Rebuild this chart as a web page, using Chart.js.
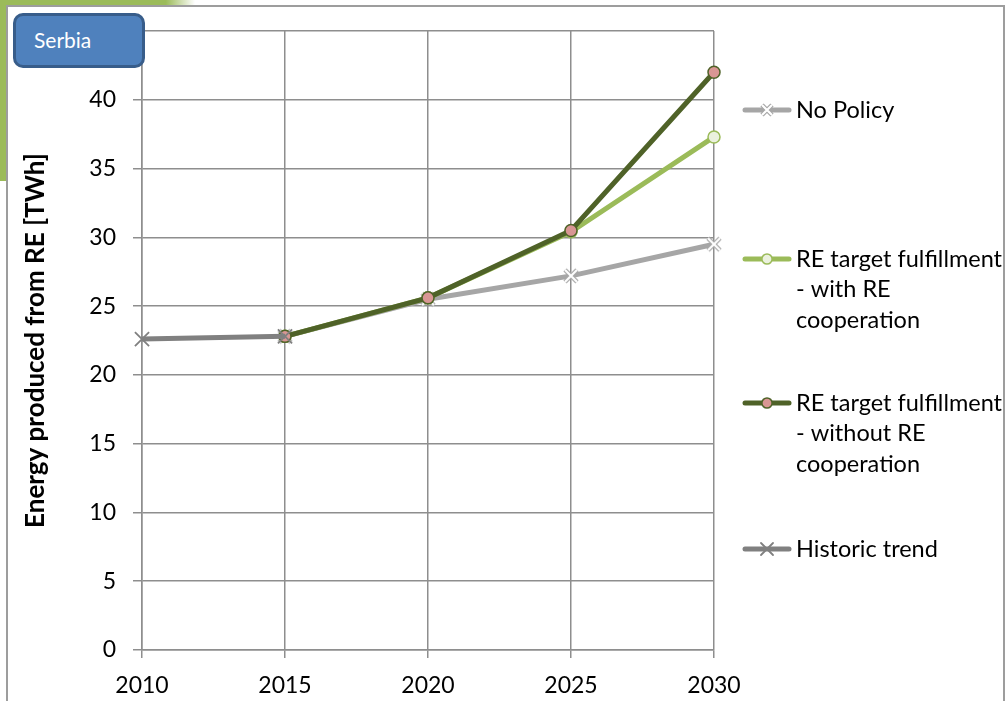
<!DOCTYPE html>
<html>
<head>
<meta charset="utf-8">
<script src="https://cdn.jsdelivr.net/npm/chart.js@4.4.0/dist/chart.umd.min.js"></script>
<style>
  html, body { margin: 0; padding: 0; background: #ffffff; }
  #wrap { position: relative; width: 1008px; height: 701px; overflow: hidden; background: #fff; }
  #greenTop { position: absolute; left: 0; top: 0; width: 195px; height: 5px;
    background: linear-gradient(to right, #9bbb59 0%, #9bbb59 85%, rgba(155,187,89,0) 100%); }
  #greenLeft { position: absolute; left: 0; top: 0; width: 6px; height: 181px; background: #9bbb59; }
  #frame { position: absolute; left: 6px; top: 5px; width: 999px; height: 720px;
    border: 2px solid #9d9d9d; box-sizing: border-box; }
  #serbia { position: absolute; left: 13px; top: 13px; width: 132px; height: 55px;
    box-sizing: border-box; background: #4f81bd; border: 3px solid #385d8a; border-radius: 10px;
    color: #ffffff; font-family: Lato, "Open Sans", sans-serif; font-size: 21px;
    line-height: 48px; padding-left: 18px; }
  canvas { position: absolute; left: 0; top: 0; }
</style>
</head>
<body>
<div id="wrap">
  <div id="greenTop"></div>
  <div id="greenLeft"></div>
  <div id="frame"></div>
  <canvas id="c" width="1008" height="701"></canvas>
  <div id="serbia">Serbia</div>
</div>
<script>
const years = [2010, 2015, 2020, 2025, 2030];
const historicTrend = [22.6, 22.8, null, null, null];
const noPolicy = [null, 22.8, 25.5, 27.2, 29.5];
const withCoop = [null, 22.8, 25.6, 30.4, 37.3];
const withoutCoop = [null, 22.8, 25.6, 30.5, 42.0];
const yTicks = [0, 5, 10, 15, 20, 25, 30, 35, 40, 45];
const seriesNames = ['No Policy', 'RE target fulfillment - with RE cooperation', 'RE target fulfillment - without RE cooperation', 'Historic trend'];
const legendLines = [['No Policy'], ['RE target fulfillment', '- with RE', 'cooperation'], ['RE target fulfillment', '- without RE', 'cooperation'], ['Historic trend']];
const yTitle = 'Energy produced from RE [TWh]';

const pts = arr => years.map((x, i) => ({ x: x, y: arr[i] }));
const FONT = 'Lato, "Open Sans", sans-serif';
const GRID = '#8e8e8e';

// white X with grey outline marker (No Policy)
function makeX(half) {
  const c = document.createElement('canvas');
  const s = half * 2 + 6;
  c.width = s; c.height = s;
  const g = c.getContext('2d');
  const m = s / 2;
  const drawX = () => { g.beginPath(); g.moveTo(m - half, m - half); g.lineTo(m + half, m + half);
    g.moveTo(m + half, m - half); g.lineTo(m - half, m + half); g.stroke(); };
  g.lineCap = 'butt';
  g.strokeStyle = '#a6a6a6'; g.lineWidth = 4.5; drawX();
  g.strokeStyle = '#ffffff'; g.lineWidth = 2.2; drawX();
  return c;
}
const xMarker = makeX(6);
const xMarkerLegend = makeX(5);

const datasets = [
  { label: seriesNames[0], data: pts(noPolicy), borderColor: '#a6a6a6', borderWidth: 5,
    pointStyle: xMarker, pointRadius: 7, order: 4, legendMarker: xMarkerLegend },
  { label: seriesNames[1], data: pts(withCoop), borderColor: '#9bbb59', borderWidth: 5,
    pointStyle: 'circle', pointRadius: 6, pointBorderColor: '#9bbb59', pointBackgroundColor: '#ebf1de',
    pointBorderWidth: 1.5, order: 3 },
  { label: seriesNames[2], data: pts(withoutCoop), borderColor: '#4f6228', borderWidth: 5,
    pointStyle: 'circle', pointRadius: 6, pointBorderColor: '#4f6228', pointBackgroundColor: '#d99694',
    pointBorderWidth: 1.5, order: 2 },
  { label: seriesNames[3], data: pts(historicTrend), borderColor: '#808080', borderWidth: 5,
    pointStyle: 'crossRot', pointRadius: 10, pointBorderColor: '#808080', pointBackgroundColor: '#808080',
    pointBorderWidth: 1.8, order: 1 }
];

const legendY = [110, 259, 403, 549];
const legendPlugin = {
  id: 'customLegend',
  afterDraw(chart) {
    const ctx = chart.ctx;
    ctx.save();
    chart.data.datasets.forEach((ds, i) => {
      const y = legendY[i];
      ctx.strokeStyle = ds.borderColor;
      ctx.lineWidth = ds.borderWidth;
      ctx.lineCap = 'round';
      ctx.beginPath();
      ctx.moveTo(745, y);
      ctx.lineTo(789, y);
      ctx.stroke();
      if (ds.legendMarker) {
        const m = ds.legendMarker;
        ctx.drawImage(m, 767 - m.width / 2, y - m.height / 2);
      } else {
        ctx.fillStyle = ds.pointBackgroundColor;
        ctx.strokeStyle = ds.pointBorderColor;
        ctx.lineWidth = ds.pointBorderWidth;
        Chart.helpers.drawPoint(ctx, { pointStyle: ds.pointStyle, rotation: 0,
          radius: ds.pointRadius * 0.85, borderWidth: ds.pointBorderWidth }, 767, y);
      }
      ctx.fillStyle = '#000000';
      ctx.font = '23.5px ' + FONT;
      ctx.textBaseline = 'middle';
      ctx.textAlign = 'left';
      legendLines[i].forEach((t, k) => ctx.fillText(t, 796, y + k * 30.5));
    });
    ctx.restore();
  }
};

new Chart(document.getElementById('c'), {
  type: 'line',
  data: { datasets: datasets },
  options: {
    responsive: false,
    animation: false,
    devicePixelRatio: 1,
    clip: false,
    layout: { padding: { left: 0, top: 31, right: 294, bottom: 0 } },
    plugins: { legend: { display: false }, tooltip: { enabled: false } },
    elements: { line: { tension: 0 } },
    scales: {
      x: {
        type: 'linear', min: 2010, max: 2030,
        afterFit: s => { s.height = 51; },
        afterBuildTicks: s => { s.ticks = years.map(v => ({ value: v })); },
        ticks: { stepSize: 5, color: '#000', font: { family: FONT, size: 23 }, padding: 14,
          maxRotation: 0, callback: v => String(v) },
        grid: { color: GRID, lineWidth: 1.5, tickLength: 8, tickColor: GRID },
        border: { color: GRID, width: 1.5 }
      },
      y: {
        min: 0, max: 45,
        afterFit: s => { s.width = 142; },
        afterBuildTicks: s => { s.ticks = yTicks.map(v => ({ value: v })); },
        ticks: { stepSize: 5, color: '#000', font: { family: FONT, size: 23 }, padding: 17,
          callback: v => (v === 45 ? '' : String(v)) },
        grid: { color: GRID, lineWidth: 1.5, tickLength: 9,
          tickColor: c => (c.tick && c.tick.value === 45 ? 'rgba(0,0,0,0)' : GRID) },
        border: { color: GRID, width: 1.5 },
        title: { display: true, text: yTitle, color: '#000',
          font: { family: FONT, size: 26, weight: 'bold' }, padding: { top: 20, bottom: 0 } }
      }
    }
  },
  plugins: [legendPlugin]
});
</script>
</body>
</html>
